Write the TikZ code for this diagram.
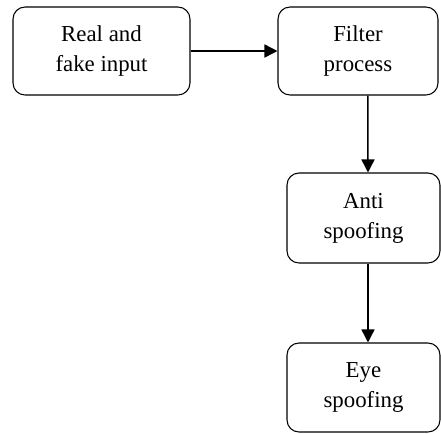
\documentclass[tikz,border=0pt]{standalone}
\usepackage{fontspec}
\setmainfont{Liberation Serif}
\usetikzlibrary{arrows.meta}

\begin{document}
\begin{tikzpicture}[
    x = 0.02cm, y = -0.02cm,
    stage/.style = {draw, rounded corners = 0.24cm, line width = 0.6pt,
      align = center, inner sep = 0pt, font = \fontsize{13}{17}\selectfont},
    flow/.style = {-{Triangle[length=2.6mm, width=2.6mm]}, line width = 0.85pt}
  ]
  \useasboundingbox (0,0) rectangle (441,434);

  % Stages
  \node[stage, minimum width = 3.54cm, minimum height = 1.76cm]
    (input) at (101.5,51) {Real and\\fake input};
  \node[stage, minimum width = 3.2cm, minimum height = 1.76cm]
    (filter) at (358,51) {Filter\\process};
  \node[stage, minimum width = 3.06cm, minimum height = 1.8cm]
    (anti) at (363.5,218) {Anti\\spoofing};
  \node[stage, minimum width = 3.06cm, minimum height = 1.78cm]
    (eye) at (363.5,387.5) {Eye\\spoofing};

  % Arrows
  \draw[flow] (input) -- (filter);
  \draw[flow] ([xshift=0.2cm]filter.south) -- ([xshift=0.09cm]anti.north);
  \draw[flow] ([xshift=0.09cm]anti.south) -- ([xshift=0.09cm]eye.north);

\end{tikzpicture}
\end{document}
